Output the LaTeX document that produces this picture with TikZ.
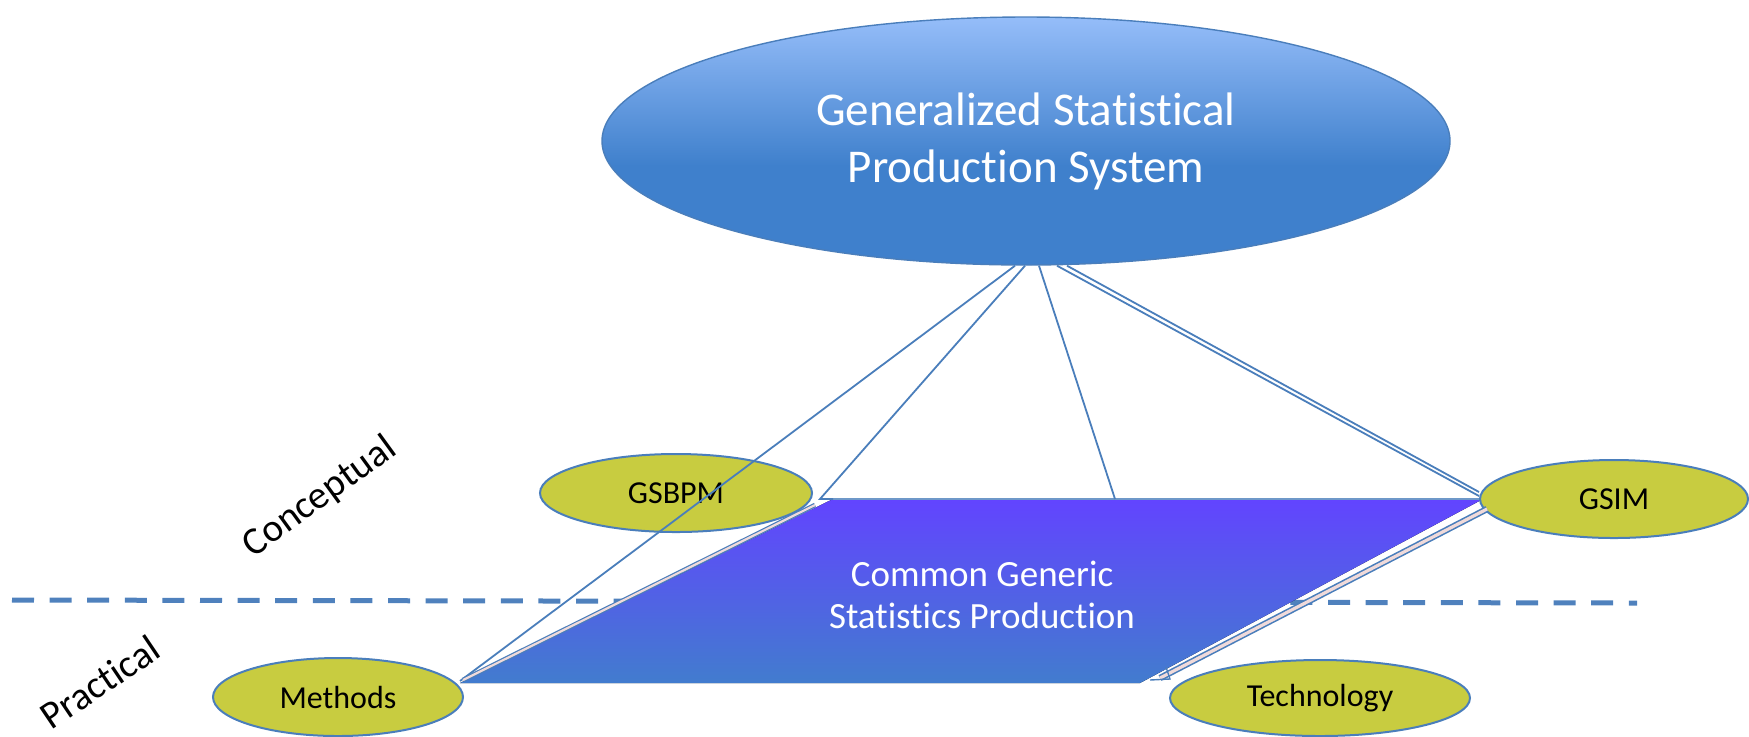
\documentclass[tikz,border=0pt]{standalone}
\usepackage{fontspec}
\setmainfont{Carlito}[Ligatures=NoCommon]
\usetikzlibrary{shapes.geometric,calc}
\definecolor{lineblue}{RGB}{74,126,187}
\definecolor{olive}{RGB}{200,204,64}
\definecolor{dashblue}{RGB}{79,129,189}
\definecolor{ptop}{RGB}{98,68,255}
\definecolor{pbot}{RGB}{66,124,206}
\definecolor{etop}{RGB}{149,189,249}
\definecolor{ebot}{RGB}{63,128,204}
\definecolor{pinkline}{RGB}{240,218,218}
\pgfdeclareverticalshading{gspsshade}{100bp}{color(0bp)=(ebot); color(45bp)=(ebot); color(75bp)=(etop); color(100bp)=(etop)}
\begin{document}
\begin{tikzpicture}[x=0.5pt,y=-0.5pt,
  smallell/.style={ellipse, draw=lineblue, line width=1pt, fill=olive, inner sep=0pt, font=\fontsize{16}{19}\selectfont},
  conn/.style={draw=lineblue, line width=0.9pt},
  dbl/.style={draw=lineblue, line width=0.6pt, double=pinkline, double distance=1.1pt},
  sidelabel/.style={font=\fontsize{19.5}{23}\selectfont, inner sep=0pt}]
\useasboundingbox (0,0) rectangle (1749,736);

% dashed divider
\coordinate (dl) at (12,600);
\coordinate (dr) at (1637,603);
\draw[dashblue, line width=2.5pt, dash pattern=on 11pt off 7.8pt] (dl) -- (dr);

% parallelogram
\coordinate (TL) at (833,499);
\coordinate (TR) at (1483,499);
\coordinate (BR) at (1140,683);
\coordinate (BL) at (460,683);
\fill[top color=ptop, bottom color=pbot] (TL) -- (TR) -- (BR) -- (BL) -- cycle;
\draw[lineblue!80, line width=0.6pt] (TL) -- (TR);
\node[text=white, align=center, font=\fontsize{18.5}{21.2}\selectfont] (cgsp) at (982,595) {Common Generic\\Statistics Production};

% main ellipse
\node[ellipse, draw=lineblue, line width=0.7pt, shading=gspsshade, minimum width=424pt, minimum height=124pt, inner sep=0pt,
      text=white, align=center, font=\fontsize{23.5}{28.5}\selectfont] (gsps) at (1026,141) {Generalized Statistical\\Production System};

% small ellipses
\node[smallell, minimum width=136pt, minimum height=39pt] (gsbpm) at (676,493) {GSBPM};
\node[smallell, minimum width=134pt, minimum height=39pt] (gsim) at (1614,499) {GSIM};
\node[smallell, minimum width=125pt, minimum height=39pt] (methods) at (338,697) {Methods};
\node[smallell, minimum width=150pt, minimum height=38pt] (tech) at (1320,698) {Technology};

% side labels
\node[sidelabel, rotate=36] (concept) at (320,497) {Conceptual};
\node[sidelabel, rotate=34] (practical) at (100,682) {Practical};

% connector end points
\coordinate (s1) at ($(gsps.south)+(-11,0)$);
\coordinate (s2) at ($(gsps.south)+(-1,0)$);
\coordinate (s3) at ($(gsps.south)+(13,0)$);
\coordinate (s4) at ($(gsps.south)+(31,0)$);
\coordinate (s5) at ($(gsps.south)+(41,0)$);
\coordinate (mtip) at (460,681);
\coordinate (notch) at (820,499);
\coordinate (pmid) at (1115,499);
\coordinate (lt) at (815,505);
\coordinate (lb) at (463,680);
\coordinate (rt) at (1487,509);
\coordinate (rb) at (1160,678);
\coordinate (tn1) at (1166,667);
\coordinate (tn2) at (1170,679);
\coordinate (tn3) at (1150,680);

\draw[conn] (s1) -- (mtip);
\draw[conn] (s2) -- (notch) -- (TL);
\draw[conn] (s3) -- (pmid);
\draw[conn] (s4) -- ($(gsim.west)+(0,-3)$);
\draw[conn] (s5) -- ($(gsim.west)+(0,-7)$);
\draw[dbl] (lt) -- (lb);
\draw[dbl, line width=0.8pt, double distance=1.6pt] (rt) -- (rb);
\draw[lineblue, line width=0.7pt] (tn1) -- (tn2) -- (tn3);
\end{tikzpicture}
\end{document}
